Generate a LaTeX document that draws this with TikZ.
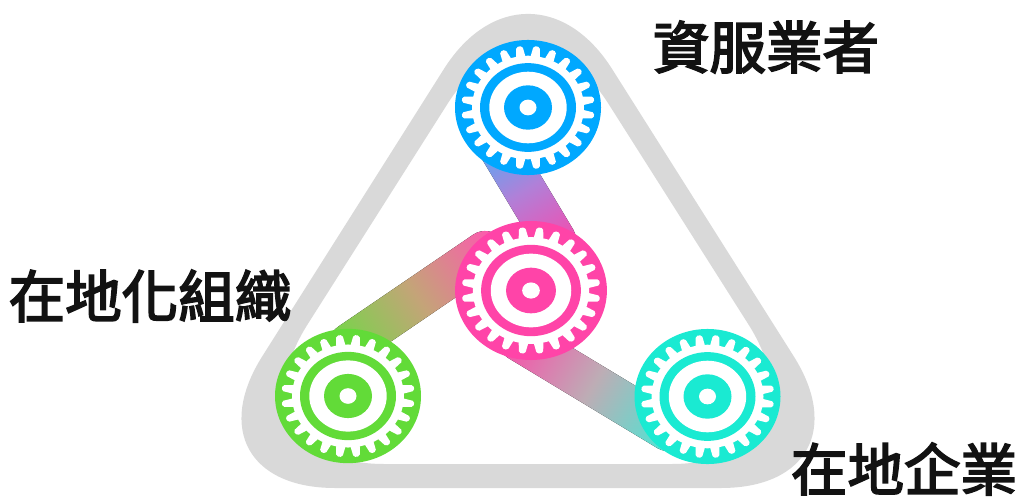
\documentclass[tikz,border=0pt]{standalone}
\usepackage{fontspec}
\usetikzlibrary{calc}
\newfontfamily\cjk[FakeBold=3.2]{Noto Sans CJK TC}
\definecolor{gearblue}{HTML}{00A8FF}
\definecolor{gearpink}{HTML}{FF44A8}
\definecolor{geargreen}{HTML}{62DB38}
\definecolor{gearteal}{HTML}{1AEAD2}
\definecolor{frame}{HTML}{D9D9D9}
\tikzset{
  frameshape/.style={fill=frame,even odd rule},
  biglabel/.style={font=\cjk\fontsize{42.4pt}{44pt}\selectfont,text=black!93,inner sep=0pt},
}
\newcommand\geardraw[4]{%
  \begin{scope}[shift={(#1)},xscale=#3,yscale=#4]
    \fill[#2] (0,0) circle[radius=73];
    \fill[white] (0,0) circle[radius=56];
    \foreach \a in {7.5,22.5,...,352.5}{
      \fill[white,rotate=\a,rounded corners=1.3pt] (54,-4.8) -- (66.5,-3.1) -- (66.5,3.1) -- (54,4.8) -- cycle;
    }
    \fill[#2] (0,0) circle[radius=48];
    \fill[white] (0,0) circle[radius=38.7];
    \fill[#2] (0,0) circle[radius=24];
    \fill[white] (0,0) circle[radius=8.5];
  \end{scope}}
\newcommand\bandlink[5]{%
  \path let \p1=(#1), \p2=(#2) in \pgfextra{%
    \pgfmathsetmacro\bandang{atan2(\y2-\y1,\x2-\x1)}%
    \pgfmathsetlengthmacro\bandlen{veclen(\x2-\x1,\y2-\y1)}%
    \global\let\bandang\bandang \global\let\bandlen\bandlen};
  \begin{scope}[transform canvas={shift={(#1)},rotate=\bandang}]
    \fill[left color=#3,right color=#5,middle color=#4,rounded corners=15.7pt]
      (-15.75pt,-15.75pt) rectangle (\bandlen+15.75pt,15.75pt);
  \end{scope}}
\definecolor{midab}{HTML}{B080D8}
\definecolor{midbc}{HTML}{C4A478}
\definecolor{midcd}{HTML}{BDADB5}
\begin{document}
\begin{tikzpicture}[x=0.75pt,y=-0.75pt]
  \useasboundingbox (0,0) rectangle (1020,496);
  \coordinate (ctop) at (528,107.5);
  \coordinate (cmid) at (531,290.5);
  \coordinate (cleft) at (348,396);
  \coordinate (cright) at (707.5,396.5);
  \coordinate (a1) at (495,140);
  \coordinate (a2) at (555,240);
  \coordinate (b1) at (350,344);
  \coordinate (b2) at (485,252);
  \coordinate (c1) at (519,340);
  \coordinate (c2) at (668,430);
  \fill[frameshape]
    (528,488) [rounded corners=117pt] -- (179,488) [rounded corners=118pt] -- (528,-64) [rounded corners=117pt] -- (877,488) -- cycle
    (528,464) [rounded corners=124pt] -- (219,464) [rounded corners=112pt] -- (528,-23) [rounded corners=124pt] -- (837,464) -- cycle;
  \bandlink{a2}{a1}{gearpink}{midab}{gearblue!80!white}
  \bandlink{b1}{b2}{geargreen!95!white}{midbc}{gearpink!90!white}
  \bandlink{c1}{c2}{gearpink}{midcd}{gearteal!85!white}
  \geardraw{ctop}{gearblue}{1}{0.925}
  \geardraw{cmid}{gearpink}{1.04}{0.952}
  \geardraw{cleft}{geargreen}{1}{0.92}
  \geardraw{cright}{gearteal}{1}{0.925}
  \node[biglabel] (l1) at (766,47) {資服業者};
  \node[biglabel] (l2) at (150,296) {在地化組織};
  \node[biglabel] (l3) at (904,469) {在地企業};
\end{tikzpicture}
\end{document}
